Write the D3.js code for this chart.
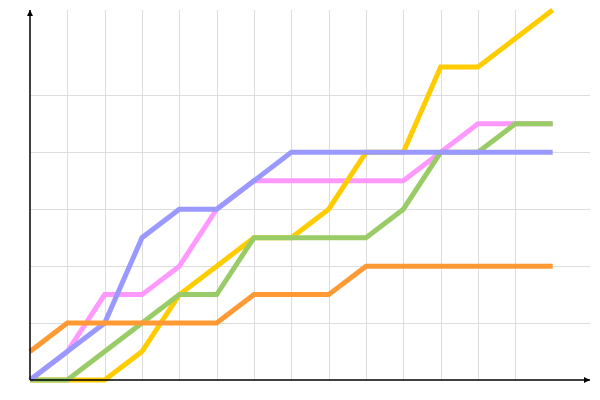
<!DOCTYPE html>
<html>
<head>
<meta charset="utf-8">
<script src="https://cdn.jsdelivr.net/npm/d3@7"></script>
<style>
  html, body { margin: 0; padding: 0; background: #fff; }
  svg { display: block; }
</style>
</head>
<body>
<svg id="chart" width="600" height="400"></svg>
<script>
// ---- data ----
const categories = [0, 1, 2, 3, 4, 5, 6, 7, 8, 9, 10, 11, 12, 13, 14];
const pinkValues   = [0, 1, 3, 3, 4, 6, 7, 7, 7, 7, 7, 8, 9, 9, 9];
const yellowValues = [0, 0, 0, 1, 3, 4, 5, 5, 6, 8, 8, 11, 11, 12, 13];
const greenValues  = [0, 0, 1, 2, 3, 3, 5, 5, 5, 5, 6, 8, 8, 9, 9];
const blueValues   = [0, 1, 2, 5, 6, 6, 7, 8, 8, 8, 8, 8, 8, 8, 8];
const orangeValues = [1, 2, 2, 2, 2, 2, 3, 3, 3, 4, 4, 4, 4, 4, 4];
const xGridTicks = [1, 2, 3, 4, 5, 6, 7, 8, 9, 10, 11, 12, 13];
const yGridTicks = [2, 4, 6, 8, 10];

const series = [
  { name: "pink",   values: pinkValues,   color: "#ff99ff" },
  { name: "yellow", values: yellowValues, color: "#ffcc00" },
  { name: "green",  values: greenValues,  color: "#99cc66" },
  { name: "blue",   values: blueValues,   color: "#9999ff" },
  { name: "orange", values: orangeValues, color: "#ff9933" }
];

// ---- layout ----
const svg = d3.select("#chart");
const x = d3.scaleLinear().domain([0, 15]).range([30, 590]);
const y = d3.scaleLinear().domain([0, 13]).range([380, 10]);

// grid
const grid = svg.append("g").attr("stroke", "#dddddd").attr("stroke-width", 1);
grid.selectAll("line.v").data(xGridTicks).join("line")
  .attr("class", "v")
  .attr("x1", d => Math.round(x(d)) + 0.5).attr("x2", d => Math.round(x(d)) + 0.5)
  .attr("y1", y(13)).attr("y2", y(0));
grid.selectAll("line.h").data(yGridTicks).join("line")
  .attr("class", "h")
  .attr("x1", x(0)).attr("x2", x(15))
  .attr("y1", d => Math.round(y(d)) + 0.5).attr("y2", d => Math.round(y(d)) + 0.5);

// lines
const line = d3.line()
  .x((d, i) => x(categories[i]))
  .y(d => y(d));

svg.append("g").selectAll("path").data(series).join("path")
  .attr("d", d => line(d.values))
  .attr("fill", "none")
  .attr("stroke", d => d.color)
  .attr("stroke-width", 5)
  .attr("stroke-linejoin", "miter")
  .attr("stroke-linecap", "butt");

// axes with arrows
const defs = svg.append("defs");
defs.append("marker")
  .attr("id", "arrow")
  .attr("viewBox", "0 0 10 10")
  .attr("refX", 10).attr("refY", 5)
  .attr("markerWidth", 4).attr("markerHeight", 4)
  .attr("orient", "auto")
  .append("path").attr("d", "M0,0 L10,5 L0,10 Z").attr("fill", "#000");

const axisG = svg.append("g").attr("stroke", "#000").attr("stroke-width", 1.5);
axisG.append("line")
  .attr("x1", x(0)).attr("x2", x(15))
  .attr("y1", y(0)).attr("y2", y(0))
  .attr("marker-end", "url(#arrow)");
axisG.append("line")
  .attr("x1", x(0)).attr("x2", x(0))
  .attr("y1", y(0)).attr("y2", y(13))
  .attr("marker-end", "url(#arrow)");
</script>
</body>
</html>
